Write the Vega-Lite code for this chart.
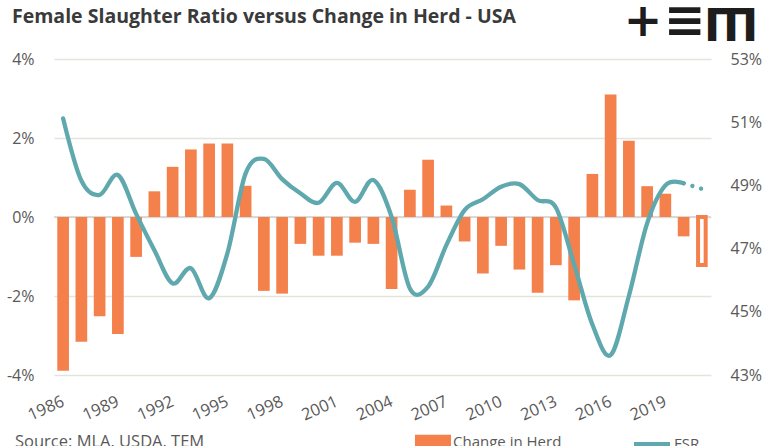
{
  "$schema": "https://vega.github.io/schema/vega-lite/v6.json",
  "width": 657,
  "height": 316,
  "autosize": {"type": "none"},
  "padding": {"left": 54, "top": 59, "right": 57, "bottom": 71},
  "background": "white",
  "config": {"view": {"stroke": null}, "font": "Open Sans"},
  "data": {
    "values": [
      {"year": 1986, "herd": -3.89, "fsr": 51.12, "status": "Actual"},
      {"year": 1987, "herd": -3.16, "fsr": 49.15, "status": "Actual"},
      {"year": 1988, "herd": -2.51, "fsr": 48.7, "status": "Actual"},
      {"year": 1989, "herd": -2.96, "fsr": 49.33, "status": "Actual"},
      {"year": 1990, "herd": -1.01, "fsr": 48.1, "status": "Actual"},
      {"year": 1991, "herd": 0.65, "fsr": 46.95, "status": "Actual"},
      {"year": 1992, "herd": 1.27, "fsr": 45.9, "status": "Actual"},
      {"year": 1993, "herd": 1.71, "fsr": 46.38, "status": "Actual"},
      {"year": 1994, "herd": 1.86, "fsr": 45.43, "status": "Actual"},
      {"year": 1995, "herd": 1.86, "fsr": 46.85, "status": "Actual"},
      {"year": 1996, "herd": 0.79, "fsr": 49.38, "status": "Actual"},
      {"year": 1997, "herd": -1.87, "fsr": 49.84, "status": "Actual"},
      {"year": 1998, "herd": -1.94, "fsr": 49.2, "status": "Actual"},
      {"year": 1999, "herd": -0.68, "fsr": 48.75, "status": "Actual"},
      {"year": 2000, "herd": -0.98, "fsr": 48.45, "status": "Actual"},
      {"year": 2001, "herd": -0.98, "fsr": 49.08, "status": "Actual"},
      {"year": 2002, "herd": -0.65, "fsr": 48.48, "status": "Actual"},
      {"year": 2003, "herd": -0.68, "fsr": 49.17, "status": "Actual"},
      {"year": 2004, "herd": -1.82, "fsr": 48.0, "status": "Actual"},
      {"year": 2005, "herd": 0.69, "fsr": 45.74, "status": "Actual"},
      {"year": 2006, "herd": 1.45, "fsr": 45.8, "status": "Actual"},
      {"year": 2007, "herd": 0.29, "fsr": 47.11, "status": "Actual"},
      {"year": 2008, "herd": -0.62, "fsr": 48.22, "status": "Actual"},
      {"year": 2009, "herd": -1.43, "fsr": 48.56, "status": "Actual"},
      {"year": 2010, "herd": -0.73, "fsr": 48.96, "status": "Actual"},
      {"year": 2011, "herd": -1.33, "fsr": 49.04, "status": "Actual"},
      {"year": 2012, "herd": -1.92, "fsr": 48.54, "status": "Actual"},
      {"year": 2013, "herd": -1.22, "fsr": 48.3, "status": "Actual"},
      {"year": 2014, "herd": -2.11, "fsr": 46.5, "status": "Actual"},
      {"year": 2015, "herd": 1.09, "fsr": 44.6, "status": "Actual"},
      {"year": 2016, "herd": 3.1, "fsr": 43.63, "status": "Actual"},
      {"year": 2017, "herd": 1.93, "fsr": 45.5, "status": "Actual"},
      {"year": 2018, "herd": 0.78, "fsr": 47.8, "status": "Actual"},
      {"year": 2019, "herd": 0.59, "fsr": 49.0, "status": "Actual"},
      {"year": 2020, "herd": -0.49, "fsr": 49.07, "status": "Actual"},
      {"year": 2021, "herd": -1.215, "fsr": 48.89, "status": "Estimate"}
    ]
  },
  "layer": [
    {
      "layer": [
        {
          "data": {"values": [{"zero": 0}]},
          "mark": {"type": "rule", "color": "#D9D9D9", "strokeWidth": 2},
          "encoding": {"y": {"field": "zero", "type": "quantitative"}}
        },
        {
          "transform": [{"filter": "datum.status == 'Actual'"}],
          "mark": {"type": "bar"},
          "encoding": {
            "x": {
              "field": "year",
              "type": "ordinal",
              "scale": {"paddingInner": 0.36, "paddingOuter": 0.18},
              "axis": {
                "values": [1986, 1989, 1992, 1995, 1998, 2001, 2004, 2007, 2010, 2013, 2016, 2019],
                "title": null,
                "domain": false,
                "ticks": false,
                "labelAngle": -24,
                "labelAlign": "right",
                "labelBaseline": "top",
                "labelPadding": 18,
                "labelOffset": -3,
                "labelFontSize": 16.5,
                "labelColor": "#595959"
              }
            },
            "y": {
              "field": "herd",
              "type": "quantitative",
              "scale": {"domain": [-4, 4], "nice": false},
              "axis": {
                "values": [-4, -3, -2, -1, 0, 1, 2, 3, 4],
                "labelExpr": "datum.value + '%'",
                "title": null,
                "grid": true,
                "gridColor": "#E4E4DA",
                "gridWidth": 1.5,
                "domain": false,
                "ticks": false,
                "labelPadding": 20,
                "labelFontSize": 16,
                "labelColor": "#595959"
              }
            },
            "fill": {
              "datum": "Change in Herd",
              "scale": {"range": ["#F4804B"]},
              "legend": {
                "orient": "none",
                "legendX": 361,
                "legendY": 365,
                "direction": "horizontal",
                "title": null,
                "symbolType": "M-1,-0.4H1V0.4H-1Z",
                "symbolSize": 1296,
                "symbolStrokeWidth": 0,
                "labelFontSize": 15,
                "labelColor": "#595959",
                "labelOffset": 2,
                "padding": 0
              }
            }
          }
        },
        {
          "transform": [{"filter": "datum.status == 'Estimate'"}],
          "mark": {"type": "bar", "fill": "white", "stroke": "#F4804B", "strokeWidth": 4, "width": {"band": 0.65}},
          "encoding": {
            "x": {"field": "year", "type": "ordinal"},
            "y": {"field": "herd", "type": "quantitative"}
          }
        },
        {
          "data": {"values": [{"label": "Female Slaughter Ratio versus Change in Herd - USA"}]},
          "mark": {"type": "text", "align": "left", "baseline": "alphabetic", "font": "Open Sans", "fontWeight": "bold", "fontSize": 19.5, "color": "#3a3a3a"},
          "encoding": {
            "text": {"field": "label"},
            "x": {"value": -42},
            "y": {"value": -36}
          }
        },
        {
          "data": {"values": [{"label": "Source: MLA, USDA, TEM"}]},
          "mark": {"type": "text", "align": "left", "baseline": "alphabetic", "fontSize": 16.5, "color": "#595959"},
          "encoding": {
            "text": {"field": "label"},
            "x": {"value": -39},
            "y": {"value": 388}
          }
        },
        {
          "data": {"values": [{"g": "+"}]},
          "mark": {"type": "text", "align": "center", "baseline": "middle", "font": "DejaVu Sans", "fontWeight": "bold", "fontSize": 46, "color": "#1d1d1d"},
          "encoding": {"text": {"field": "g"}, "x": {"value": 589}, "y": {"value": -37}}
        },
        {
          "data": {"values": [{"g": "≡"}]},
          "mark": {"type": "text", "align": "center", "baseline": "middle", "font": "DejaVu Sans", "fontWeight": "bold", "fontSize": 50, "color": "#1d1d1d"},
          "encoding": {"text": {"field": "g"}, "x": {"value": 631}, "y": {"value": -37}}
        },
        {
          "data": {"values": [{"g": "Ш"}]},
          "mark": {"type": "text", "align": "center", "baseline": "middle", "angle": 180, "font": "DejaVu Sans", "fontWeight": "bold", "fontSize": 44, "color": "#1d1d1d"},
          "encoding": {"text": {"field": "g"}, "x": {"value": 677}, "y": {"value": -38}}
        }
      ]
    },
    {
      "layer": [
        {
          "transform": [{"filter": "datum.year <= 2020"}],
          "mark": {"type": "line", "interpolate": "cardinal", "strokeWidth": 4.3, "strokeCap": "round", "strokeJoin": "round"},
          "encoding": {
            "x": {"field": "year", "type": "ordinal"},
            "y": {
              "field": "fsr",
              "type": "quantitative",
              "scale": {"domain": [43, 53], "nice": false, "zero": false},
              "axis": {
                "orient": "right",
                "values": [43, 45, 47, 49, 51, 53],
                "labelExpr": "datum.value + '%'",
                "title": null,
                "grid": false,
                "domain": false,
                "ticks": false,
                "labelPadding": 19,
                "labelFontSize": 16,
                "labelColor": "#595959"
              }
            },
            "stroke": {
              "datum": "FSR",
              "scale": {"range": ["#5FA8AE"]},
              "legend": {
                "orient": "none",
                "legendX": 578,
                "legendY": 365,
                "direction": "horizontal",
                "title": null,
                "symbolType": "M-1,0H1",
                "symbolSize": 1296,
                "symbolStrokeWidth": 4,
                "labelFontSize": 15,
                "labelColor": "#595959",
                "labelOffset": 2,
                "padding": 0
              }
            }
          }
        },
        {
          "transform": [{"filter": "datum.year >= 2020"}],
          "mark": {"type": "line", "color": "#5FA8AE", "strokeWidth": 4.3, "strokeCap": "round", "strokeDash": [0.1, 9]},
          "encoding": {
            "x": {"field": "year", "type": "ordinal"},
            "y": {"field": "fsr", "type": "quantitative"}
          }
        }
      ]
    }
  ],
  "resolve": {"scale": {"y": "independent"}}
}
